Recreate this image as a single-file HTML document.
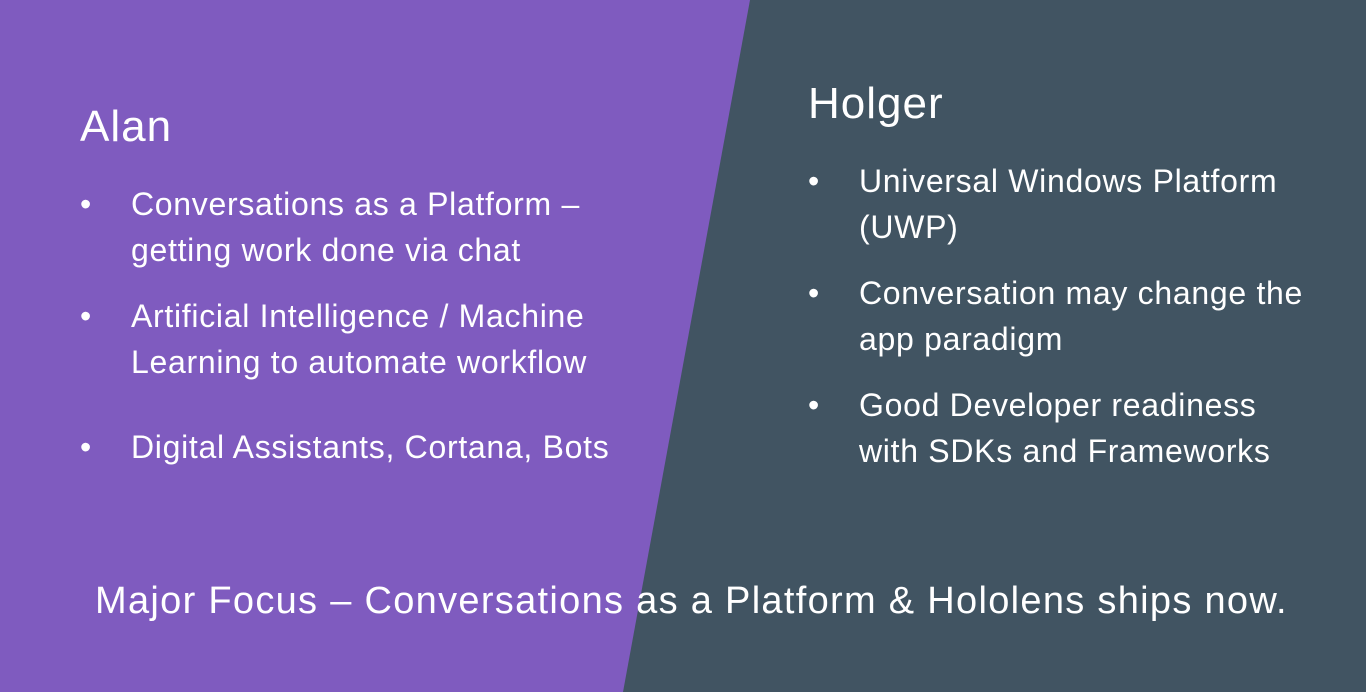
<!DOCTYPE html>
<html><head><style>
body{margin:0;width:1366px;height:692px;overflow:hidden;position:relative;background:#415462;font-family:"Liberation Sans",sans-serif;color:#fff}
.bg{position:absolute;left:0;top:0;width:1366px;height:692px}
.t{position:absolute;white-space:nowrap;font-size:32px;line-height:36px;letter-spacing:0.7px}
.b{letter-spacing:0}
.h{font-size:44px;line-height:48px;letter-spacing:1px}
</style></head><body>
<svg class="bg" width="1366" height="692"><polygon points="0,0 750,0 623,692 0,692" fill="#7F5BBF"/></svg>
<div class="t h" style="left:80px;top:103px">Alan</div>
<div class="t b" style="left:80px;top:186px">•</div>
<div class="t" style="left:131px;top:186px">Conversations as a Platform –</div>
<div class="t" style="left:131px;top:232px">getting work done via chat</div>
<div class="t b" style="left:80px;top:298px">•</div>
<div class="t" style="left:131px;top:298px">Artificial Intelligence / Machine</div>
<div class="t" style="left:131px;top:344px">Learning to automate workflow</div>
<div class="t b" style="left:80px;top:429px">•</div>
<div class="t" style="left:131px;top:429px">Digital Assistants, Cortana, Bots</div>

<div class="t h" style="left:808px;top:80px">Holger</div>
<div class="t b" style="left:808px;top:163px">•</div>
<div class="t" style="left:859px;top:163px">Universal Windows Platform</div>
<div class="t" style="left:859px;top:209px">(UWP)</div>
<div class="t b" style="left:808px;top:275px">•</div>
<div class="t" style="left:859px;top:275px">Conversation may change the</div>
<div class="t" style="left:859px;top:321px">app paradigm</div>
<div class="t b" style="left:808px;top:387px">•</div>
<div class="t" style="left:859px;top:387px">Good Developer readiness</div>
<div class="t" style="left:859px;top:433px">with SDKs and Frameworks</div>

<div class="t" style="left:95px;font-size:38px;line-height:42px;letter-spacing:1.3px;top:580px">Major Focus – Conversations as a Platform &amp; Hololens ships now.</div>
</body></html>
